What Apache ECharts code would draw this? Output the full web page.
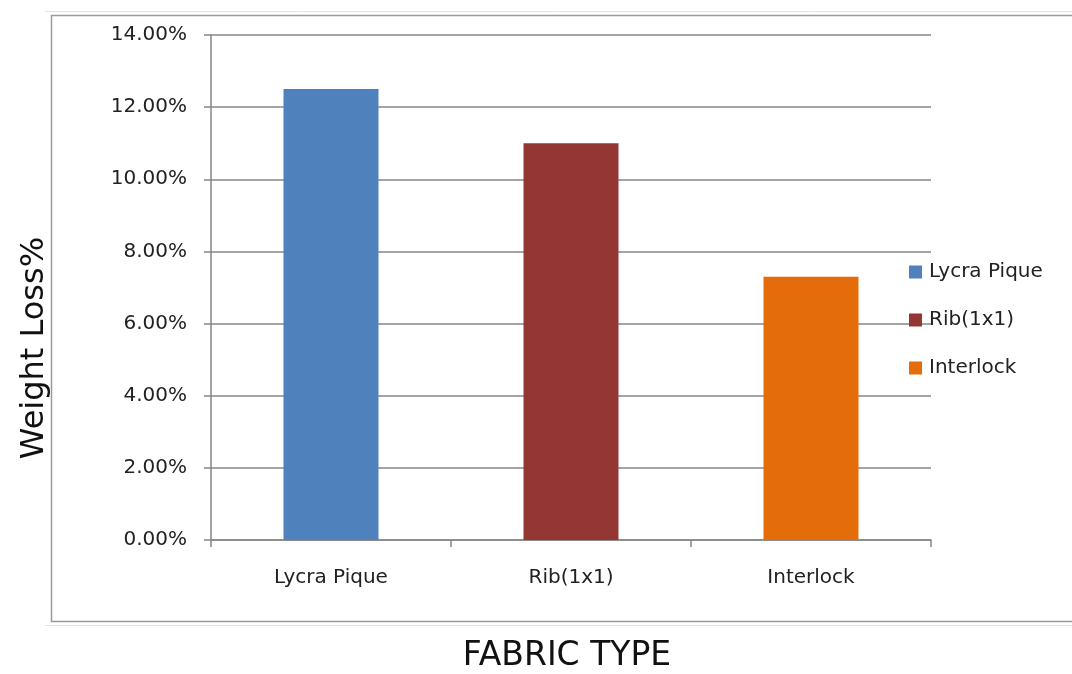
<!DOCTYPE html>
<html><head><meta charset="utf-8">
<script src="https://cdn.jsdelivr.net/npm/echarts@6/dist/echarts.min.js"></script>
<style>html,body{margin:0;padding:0;background:#fff}#c{width:1072px;height:674px}</style>
</head><body><div id="c"></div>
<script>
const categories = ['Lycra Pique', 'Rib(1x1)', 'Interlock'];
const seriesNames = ['Lycra Pique', 'Rib(1x1)', 'Interlock'];
const lycraPique = [0.125, '-', '-'];
const rib1x1 = ['-', 0.110, '-'];
const interlock = ['-', '-', 0.073];
const colors = ['#4F81BD', '#943634', '#E46C0A'];
const xTitle = 'FABRIC TYPE';
const yTitle = 'Weight Loss%';

const font = "'DejaVu Sans', 'Open Sans', sans-serif";
const chart = echarts.init(document.getElementById('c'));
const mk = (name, data, color) => ({
  name, type: 'bar', data, stack: 'all', barWidth: 95,
  itemStyle: { color }, animation: false
});
chart.setOption({
  animation: false,
  color: colors,
  textStyle: { fontFamily: font },
  graphic: [
    { type: 'rect', shape: { x: 51.5, y: 15.5, width: 1040, height: 606 }, style: { fill: 'none', stroke: '#9a9a9a', lineWidth: 1.5 }, silent: true },
    { type: 'line', shape: { x1: 45, y1: 11.5, x2: 1072, y2: 11.5 }, style: { stroke: '#e2e2e2', lineWidth: 1 }, silent: true },
    { type: 'line', shape: { x1: 45, y1: 625.5, x2: 1072, y2: 625.5 }, style: { stroke: '#e2e2e2', lineWidth: 1 }, silent: true },
    { type: 'text', x: 35, y: 348, rotation: Math.PI / 2, silent: true,
      style: { text: yTitle, fontSize: 32, fill: '#111', fontFamily: font, align: 'center', verticalAlign: 'middle' } },
    { type: 'text', x: 567, y: 656, silent: true,
      style: { text: xTitle, fontSize: 33, fill: '#111', fontFamily: font, align: 'center', verticalAlign: 'middle' } }
  ],
  legend: {
    orient: 'vertical', left: 904, top: 257,
    itemWidth: 13, itemHeight: 13, itemGap: 28, icon: 'rect',
    textStyle: { fontSize: 20, color: '#222', fontFamily: font, padding: [0, 0, 0, 2] },
    data: seriesNames
  },
  grid: { left: 211, right: 141, top: 35, bottom: 134, containLabel: false },
  xAxis: {
    type: 'category', data: categories,
    axisLine: { lineStyle: { color: '#868686', width: 1.5 } },
    axisTick: { show: true, length: 7, lineStyle: { color: '#868686', width: 1.5 } },
    axisLabel: { fontSize: 20, color: '#222', margin: 28, fontFamily: font }
  },
  yAxis: {
    type: 'value', min: 0, max: 0.14, interval: 0.02,
    axisLine: { show: true, lineStyle: { color: '#868686', width: 1.5 } },
    axisTick: { show: true, length: 7, inside: false, lineStyle: { color: '#868686', width: 1.5 } },
    splitLine: { lineStyle: { color: '#868686', width: 1.5 } },
    axisLabel: { fontSize: 20, color: '#222', margin: 24, fontFamily: font,
      formatter: v => (v * 100).toFixed(2) + '%' }
  },
  series: [
    mk(seriesNames[0], lycraPique, colors[0]),
    mk(seriesNames[1], rib1x1, colors[1]),
    mk(seriesNames[2], interlock, colors[2])
  ]
});
</script></body></html>
